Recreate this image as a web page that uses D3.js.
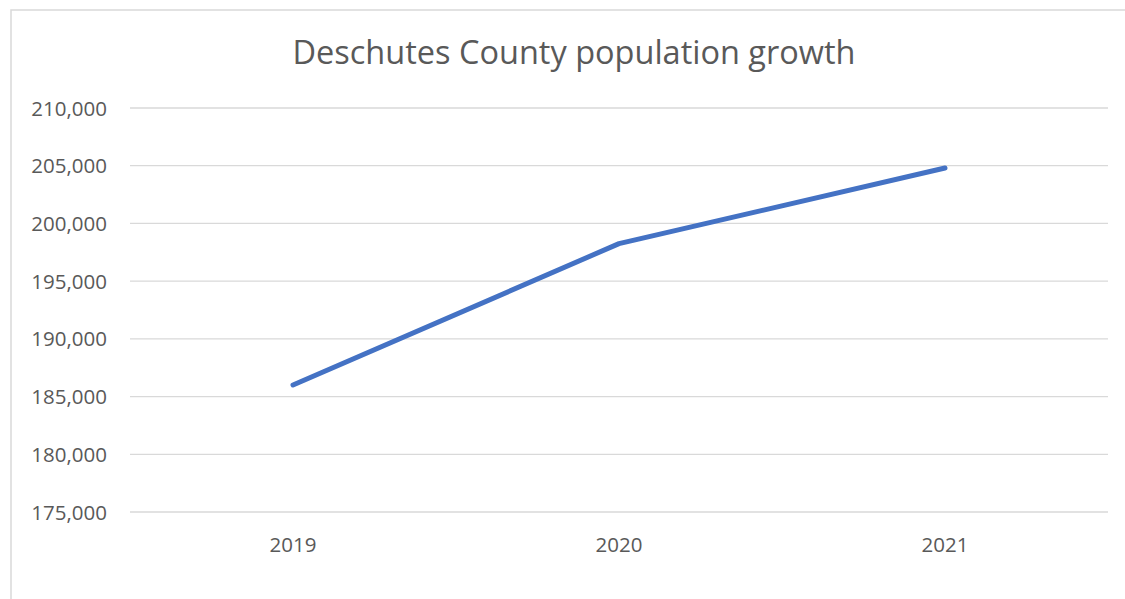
<!DOCTYPE html>
<html>
<head>
<meta charset="utf-8">
<script src="https://cdn.jsdelivr.net/npm/d3@7"></script>
<style>
  body { margin: 0; background: #fff; }
  svg text { font-family: "Open Sans", "Noto Sans", sans-serif; fill: #595959; }
</style>
</head>
<body>
<svg id="chart" width="1125" height="599"></svg>
<script>
let years = ["2019", "2020", "2021"]
let population = [186000, 198250, 204800]
let yTicks = [175000, 180000, 185000, 190000, 195000, 200000, 205000, 210000]

let svg = d3.select("#chart")
let margin = { left: 130, right: 17, top: 108, bottom: 87 }
let W = 1125, H = 599

// chart frame (left and top edges visible)
svg.append("rect")
    .attr("x", 11).attr("y", 10)
    .attr("width", 1130).attr("height", 610)
    .attr("fill", "none").attr("stroke", "#d9d9d9").attr("stroke-width", 1.5)

svg.append("text")
    .attr("x", 574).attr("y", 64)
    .attr("text-anchor", "middle")
    .style("font-size", "32.5px")
    .text("Deschutes County population growth")

let x = d3.scaleBand().domain(years).range([margin.left, W - margin.right])
let y = d3.scaleLinear().domain([175000, 210000]).range([H - margin.bottom, margin.top])

// gridlines
svg.append("g").selectAll("line").data(yTicks).enter().append("line")
    .attr("x1", margin.left).attr("x2", W - margin.right)
    .attr("y1", d => y(d)).attr("y2", d => y(d))
    .attr("stroke", "#d9d9d9").attr("stroke-width", 1.3)

// y labels
let fmt = d3.format(",")
svg.append("g").selectAll("text").data(yTicks).enter().append("text")
    .attr("x", 107).attr("y", d => y(d) + 7.5)
    .attr("text-anchor", "end")
    .style("font-size", "20.5px")
    .text(d => fmt(d))

// x labels
svg.append("g").selectAll("text").data(years).enter().append("text")
    .attr("x", d => x(d) + x.bandwidth() / 2).attr("y", 552)
    .attr("text-anchor", "middle")
    .style("font-size", "20.5px")
    .text(d => d)

let line = d3.line()
    .x((d, i) => x(years[i]) + x.bandwidth() / 2)
    .y(d => y(d))

svg.append("path")
    .datum(population)
    .attr("d", line)
    .attr("fill", "none")
    .attr("stroke", "#4472c4")
    .attr("stroke-width", 5)
    .attr("stroke-linecap", "round")
    .attr("stroke-linejoin", "round")
</script>
</body>
</html>
